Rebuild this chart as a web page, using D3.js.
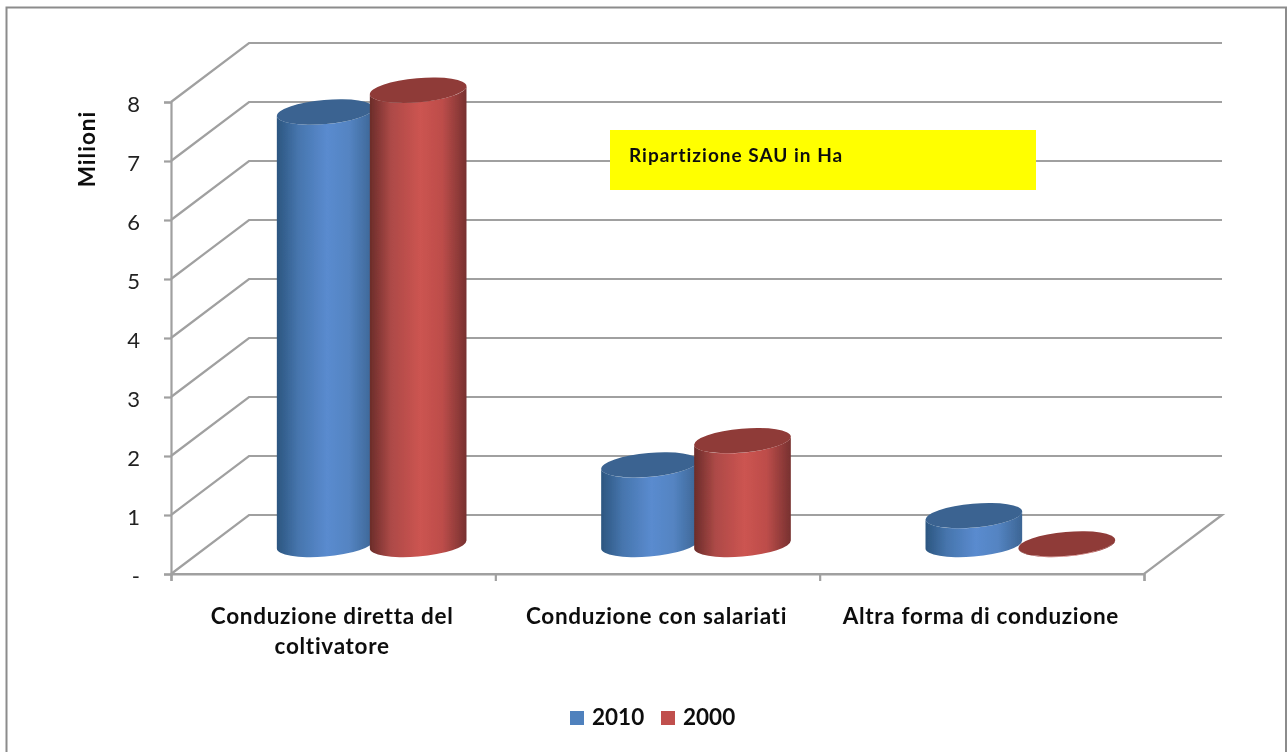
<!DOCTYPE html>
<html><head><meta charset="utf-8">
<script src="https://cdn.jsdelivr.net/npm/d3@7"></script>
<style>html,body{margin:0;padding:0;background:#fff;overflow:hidden}svg{display:block}text{fill:#111}</style>
</head><body><svg id="c" width="1287" height="752"></svg>
<script>
const categories=["Conduzione diretta del coltivatore","Conduzione con salariati","Altra forma di conduzione"];
const categoryLines=[["Conduzione diretta del","coltivatore"],["Conduzione con salariati"],["Altra forma di conduzione"]];
const seriesNames=["2010","2000"];
const values2010=[7.33,1.35,0.49];
const values2000=[7.7,1.76,0.01];
const yTicks=[0,1,2,3,4,5,6,7,8];
const seriesFront=["#2c5680","#4675ad","#5a8bcf","#5484c2","#3c6594"];
const seriesFront2=["#6b2c2a","#ad4a47","#cc5451","#bd4d4a","#773130"];
const seriesTop=["#3b6491","#8f3a37"];
const seriesSwatch=["#4f81bd","#c0504d"];
const titleText="Ripartizione SAU in Ha";
const yTitle="Milioni";

const svg=d3.select("#c");
const font="Lato, 'Open Sans', sans-serif";
const defs=svg.append("defs");
defs.append("filter").attr("id","soft").attr("x","-5%").attr("y","-5%").attr("width","110%").attr("height","110%")
  .append("feGaussianBlur").attr("stdDeviation",0.6);
[seriesFront,seriesFront2].forEach((st,i)=>{
  const g=defs.append("linearGradient").attr("id","g"+i);
  [0,0.22,0.52,0.75,1].forEach((o,k)=>g.append("stop").attr("offset",o).attr("stop-color",st[k]));
});
const root=svg.append("g").attr("filter","url(#soft)");

// frame
const frame=d3.line();
root.append("path").attr("d",frame([[6.5,752],[6.5,7.5],[1286,7.5],[1286,752]]))
  .attr("fill","none").attr("stroke","#8c8c8c").attr("stroke-width",2);

const y=d3.scaleLinear().domain([0,8]).range([574,102]);
const xEdge=d3.scaleLinear().domain([0,3]).range([171,1144]);
const xBand=d3.scaleBand().domain(categories).range([171,1144]);
const xSeries=d3.scaleBand().domain(seriesNames).range([-93,93]);
const depthX=78, depthY=59;
const grid="#a0a0a0";

// gridlines
root.append("g").selectAll("path").data(yTicks).join("path")
  .attr("d",v=>{const t=y(v);return frame([[171,t],[171+depthX,t-depthY],[1144+depthX,t-depthY]]);})
  .attr("fill","none").attr("stroke",grid).attr("stroke-width",2.2);
root.append("path").attr("d",frame([[171+depthX,y(0)-depthY],[1144+depthX,y(0)-depthY],[1144,y(0)],[171,y(0)]]))
  .attr("fill","none").attr("stroke",grid).attr("stroke-width",2.2);

// axes
const gy=root.append("g").attr("transform","translate(171,0)")
  .call(d3.axisLeft(y).tickValues(yTicks).tickSize(7).tickPadding(24).tickFormat(v=>v===0?"-":v));
const gx=root.append("g").attr("transform","translate(0,574)")
  .call(d3.axisBottom(xEdge).tickValues([0,1,2,3]).tickSize(7).tickFormat(""));
[gy,gx].forEach(g=>{g.selectAll("path,line").attr("stroke",grid).attr("stroke-width",2.2);});
gy.selectAll("text").attr("font-family",font).attr("font-size",22).attr("dy","0.45em").style("fill","#222");

// cylinders
const a=48.5,b=12,theta=-5*Math.PI/180;
const hw=Math.sqrt(a*a*Math.cos(theta)**2+b*b*Math.sin(theta)**2);
const dy=(a*a-b*b)*Math.sin(theta)*Math.cos(theta)/hw;
const rot=theta*180/Math.PI;
const base=544.5, y0=y(0);
const topY=v=>base-(y0-y(v));
categories.forEach((c,i)=>{
  const cc=xBand(c)+xBand.bandwidth()/2+depthX/2;
  seriesNames.forEach((n,s)=>{
    const v=(s===0?values2010:values2000)[i];
    const cx=cc+xSeries(n)+xSeries.bandwidth()/2-0.5;
    const t=topY(v);
    const g=root.append("g").attr("transform",`translate(${cx},0)`);
    g.append("path").attr("d",
      `M${-hw},${t-dy} L${-hw},${base-dy} A${a},${b} ${rot} 0 0 ${hw},${base+dy} L${hw},${t+dy} A${a},${b} ${rot} 0 1 ${-hw},${t-dy} Z`)
      .attr("fill",`url(#g${s})`);
    g.append("ellipse").attr("rx",a).attr("ry",b)
      .attr("transform",`translate(0,${t}) rotate(${rot})`).attr("fill",seriesTop[s]);
  });
});

// x labels
categoryLines.forEach((ls,i)=>{
  const cx=xBand(categories[i])+xBand.bandwidth()/2-1;
  ls.forEach((l,k)=>root.append("text").attr("x",cx).attr("y",624+k*30)
    .attr("text-anchor","middle").attr("font-family",font).attr("font-weight",700).attr("font-size",22.5).attr("letter-spacing",0.7).text(l));
});

// y title
root.append("text").attr("transform","translate(95,149) rotate(-90)").attr("text-anchor","middle")
  .attr("font-family",font).attr("font-weight",700).attr("font-size",22.5).attr("letter-spacing",1).text(yTitle);

// yellow box
root.append("rect").attr("x",610).attr("y",130).attr("width",426).attr("height",60).attr("fill","#ffff00");
root.append("text").attr("x",629).attr("y",162).attr("font-family",font).attr("font-weight",700).attr("font-size",19).attr("letter-spacing",1).text(titleText);

// legend
const legendX=d3.scalePoint().domain(seriesNames).range([570,661]);
seriesNames.forEach((n,s)=>{
  root.append("rect").attr("x",legendX(n)).attr("y",711).attr("width",14).attr("height",14).attr("fill",seriesSwatch[s]);
  root.append("text").attr("x",legendX(n)+22).attr("y",725).attr("font-family",font).attr("font-weight",700).attr("font-size",22.5).text(n);
});
</script></body></html>
